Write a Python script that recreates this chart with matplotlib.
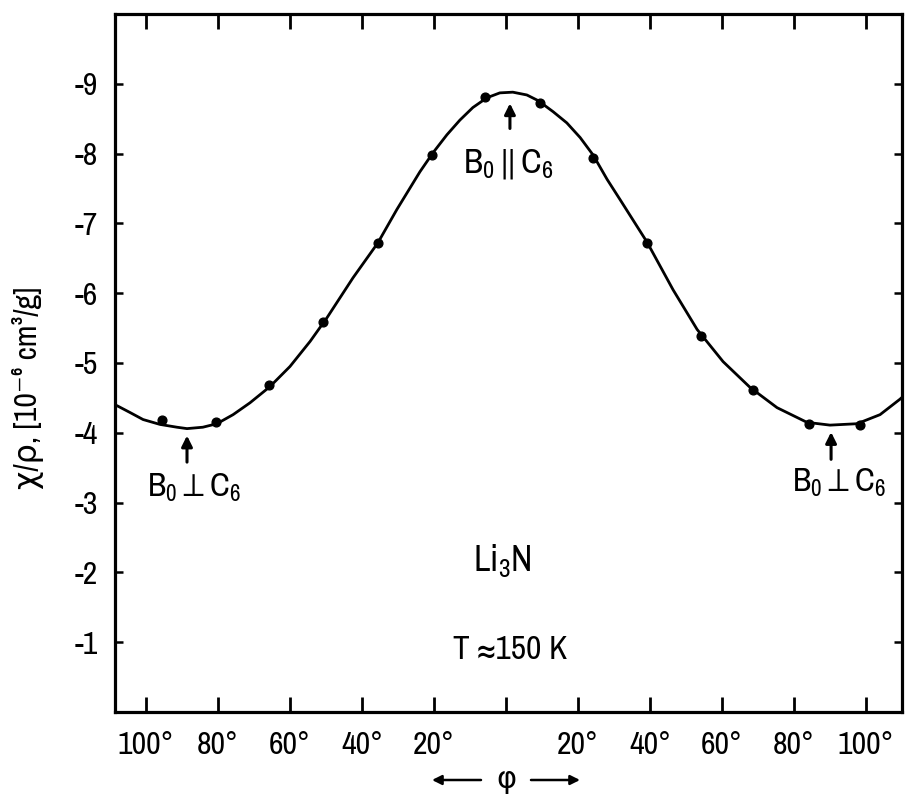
import matplotlib
matplotlib.use("Agg")
import matplotlib.pyplot as plt
from matplotlib import font_manager as fm

def pick_font():
    names = {f.name for f in fm.fontManager.ttflist}
    for n in ["Liberation Sans Narrow", "Arial Narrow", "Nimbus Sans Narrow"]:
        if n in names:
            return n
    for n in sorted(names):
        if "Narrow" in n:
            return n
    return "Liberation Sans"

MAIN = pick_font()
plt.rcParams["font.family"] = [MAIN, "DejaVu Sans"]
plt.rcParams["mathtext.fontset"] = "custom"
plt.rcParams["mathtext.rm"] = MAIN
plt.rcParams["mathtext.it"] = MAIN
plt.rcParams["mathtext.bf"] = MAIN
plt.rcParams["mathtext.fallback"] = "stixsans"

# ---- data ----
# measured points: angle phi (deg, left branch negative) and chi/rho (1e-6 cm^3/g)
phi_pts = [-95.6, -80.6, -65.8, -50.8, -35.6, -20.6, -5.8,
           9.4, 24.2, 39.2, 54.2, 68.6, 84.2, 98.3]
chi_pts = [-4.19, -4.15, -4.68, -5.59, -6.72, -7.98, -8.81,
           -8.73, -7.93, -6.72, -5.38, -4.61, -4.13, -4.11]

# drawn fit curve
phi_curve = [-108.1, -104.4, -100.8, -96.1, -91.4, -88.6, -84.2, -80.3, -75.8,
             -71.1, -65.6, -60.0, -54.4, -49.7, -42.5, -35.6, -30.3, -23.9,
             -20.3, -16.4, -12.8, -9.2, -5.3, -1.7, 1.9, 5.8, 8.9, 13.1, 16.9,
             20.6, 24.2, 28.1, 31.7, 39.2, 46.4, 53.1, 60.3, 67.8, 75.3, 83.6,
             90.0, 97.5, 103.9, 109.4, 110.5]
chi_curve = [-4.39, -4.29, -4.19, -4.12, -4.08, -4.06, -4.08, -4.13, -4.26,
             -4.43, -4.66, -4.95, -5.31, -5.65, -6.22, -6.72, -7.20, -7.74,
             -8.01, -8.27, -8.48, -8.66, -8.80, -8.87, -8.88, -8.84, -8.76,
             -8.60, -8.44, -8.23, -7.98, -7.63, -7.34, -6.73, -6.05, -5.48,
             -5.02, -4.65, -4.36, -4.15, -4.11, -4.13, -4.26, -4.48, -4.53]

x_ticks = [-100, -80, -60, -40, -20, 0, 20, 40, 60, 80, 100]
x_ticklabels = ["100°", "80°", "60°", "40°", "20°", "", "20°", "40°", "60°", "80°", "100°"]
y_ticks = [-9, -8, -7, -6, -5, -4, -3, -2, -1]
y_ticklabels = ["-9", "-8", "-7", "-6", "-5", "-4", "-3", "-2", "-1"]

W, H = 917, 795
fig = plt.figure(figsize=(W / 100, H / 100), dpi=100)
ax = fig.add_axes([115 / W, 1 - 712 / H, (902 - 115) / W, (712 - 14) / H])

ax.plot(phi_curve, chi_curve, color="black", lw=2.0, solid_capstyle="round",
        solid_joinstyle="round")
ax.plot(phi_pts, chi_pts, "o", color="black", ms=6.3)

ax.set_xlim(-108.6, 110.0)
ax.set_ylim(0, -10)

for s in ax.spines.values():
    s.set_linewidth(2.3)

ax.set_xticks(x_ticks)
ax.set_xticklabels(x_ticklabels)
ax.set_yticks(y_ticks)
ax.set_yticklabels(y_ticklabels)
ax.tick_params(axis="x", direction="in", length=11, width=2, top=True,
               labelsize=23, pad=14)
ax.tick_params(axis="y", direction="in", length=6, width=1.8, right=True,
               labelsize=23, pad=12)

ax.text(0.5, -7.73, r"$\mathrm{B}_0\,\Vert\,\mathrm{C}_6$", ha="center", va="baseline", fontsize=25)
ax.text(-86.7, -3.09, r"$\mathrm{B}_0\perp\mathrm{C}_6$", ha="center", va="baseline", fontsize=24)
ax.text(92.5, -3.16, r"$\mathrm{B}_0\perp\mathrm{C}_6$", ha="center", va="baseline", fontsize=24)
ax.text(-1.1, -2.02, r"$\mathrm{Li}_3\mathrm{N}$", ha="center", va="baseline", fontsize=26)
ax.text(1.1, -0.76, "T ≈150 K", ha="center", va="baseline", fontsize=24)

arrow_kw = dict(arrowstyle="-|>", color="black", lw=2.2, mutation_scale=16,
                shrinkA=0, shrinkB=0)
ax.annotate("", xy=(1.1, -8.72), xytext=(1.1, -8.36), arrowprops=arrow_kw)
ax.annotate("", xy=(-88.6, -3.96), xytext=(-88.6, -3.58), arrowprops=arrow_kw)
ax.annotate("", xy=(90.3, -4.01), xytext=(90.3, -3.62), arrowprops=arrow_kw)

# y label
fig.text(28 / W, 1 - 388 / H, "χ/ρ, [10⁻⁶ cm³/g]", rotation=90,
         ha="center", va="center", fontsize=23)

# x label with arrows
fig.text(506 / W, 1 - 780 / H, "φ", ha="center", va="center", fontsize=22)
fig_arrow = dict(arrowstyle="-|>", color="black", lw=1.8, mutation_scale=14,
                 shrinkA=0, shrinkB=0)
ax.annotate("", xy=(432 / W, 1 - 780 / H), xytext=(481 / W, 1 - 780 / H),
            xycoords="figure fraction", textcoords="figure fraction",
            arrowprops=fig_arrow, annotation_clip=False)
ax.annotate("", xy=(580 / W, 1 - 780 / H), xytext=(531 / W, 1 - 780 / H),
            xycoords="figure fraction", textcoords="figure fraction",
            arrowprops=fig_arrow, annotation_clip=False)

fig.savefig("out.png", dpi=100)
